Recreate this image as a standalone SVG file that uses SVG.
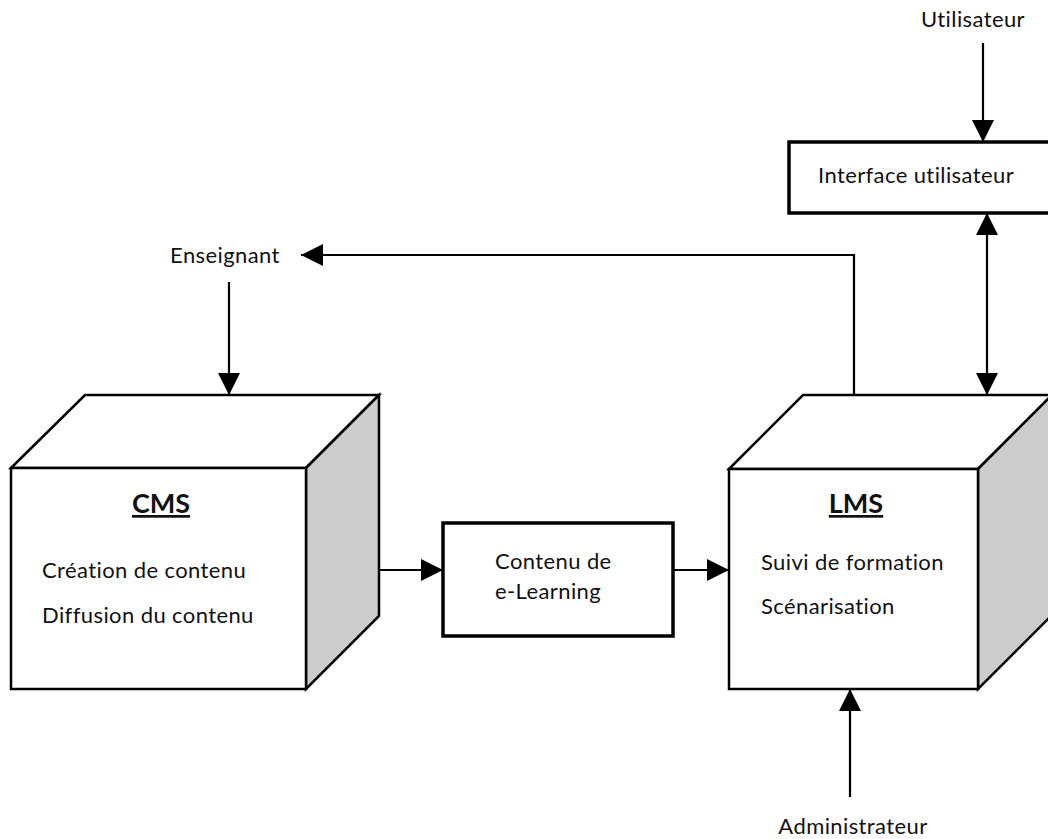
<svg xmlns="http://www.w3.org/2000/svg" width="1048" height="839" viewBox="0 0 1048 839">
<style>
text{font-family:Lato,"Liberation Sans",sans-serif;font-size:22px;letter-spacing:0.4px;fill:#111}
.t{font-weight:bold;font-size:27px;letter-spacing:0;text-decoration:underline}
.face{fill:#fff;stroke:#000;stroke-width:2.5;stroke-linejoin:miter}
.side{fill:#cccccc;stroke:#000;stroke-width:2.5}
.box{fill:#fff;stroke:#000;stroke-width:3.5}
.c{fill:none;stroke:#000;stroke-width:2.2}
</style>
<defs>
<marker id="ah" markerUnits="userSpaceOnUse" markerWidth="22" markerHeight="22" refX="20" refY="10" orient="auto-start-reverse" viewBox="0 0 20 20">
<path d="M0,0 L20,10 L0,20 z" fill="#000"/>
</marker>
</defs>
<rect width="1048" height="839" fill="#fff"/>
<g id="cms">
<polygon class="face" points="11,468 85,395 379,395 306,468"/>
<polygon class="side" points="306,468 379,395 379,616 306,689"/>
<rect class="face" x="11" y="468" width="295" height="221"/>
<text class="t" x="161" y="513" text-anchor="middle">CMS</text>
<text x="42" y="578">Création de contenu</text>
<text x="42" y="623">Diffusion du contenu</text>
</g>
<g id="lms">
<polygon class="face" points="729,469 803,395 1052,395 978,469"/>
<polygon class="side" points="978,469 1052,395 1052,615 978,689"/>
<rect class="face" x="729" y="469" width="249" height="220"/>
<text class="t" x="856" y="513" text-anchor="middle">LMS</text>
<text x="761" y="570">Suivi de formation</text>
<text x="761" y="614">Scénarisation</text>
</g>
<g id="contenu">
<rect class="box" x="443" y="523" width="230" height="113"/>
<text x="495" y="569">Contenu de</text>
<text x="495" y="599">e-Learning</text>
</g>
<g id="interface">
<rect class="box" x="789" y="142" width="270" height="71"/>
<text x="818" y="183">Interface utilisateur</text>
</g>
<g id="utilisateur"><text x="973" y="27" text-anchor="middle">Utilisateur</text></g>
<g id="enseignant"><text x="225" y="263" text-anchor="middle">Enseignant</text></g>
<g id="administrateur"><text x="853" y="834" text-anchor="middle">Administrateur</text></g>
<g id="connectors">
<line class="c" x1="379" y1="570" x2="443" y2="570" marker-end="url(#ah)"/>
<line class="c" x1="673" y1="570" x2="729" y2="570" marker-end="url(#ah)"/>
<line class="c" x1="983" y1="43" x2="983" y2="142" marker-end="url(#ah)"/>
<line class="c" x1="987" y1="213" x2="987" y2="395" marker-start="url(#ah)" marker-end="url(#ah)"/>
<polyline class="c" points="854,395 854,255 301,255" marker-end="url(#ah)"/>
<line class="c" x1="229" y1="282" x2="229" y2="395" marker-end="url(#ah)"/>
<line class="c" x1="850" y1="797" x2="850" y2="689" marker-end="url(#ah)"/>
</g>
</svg>
